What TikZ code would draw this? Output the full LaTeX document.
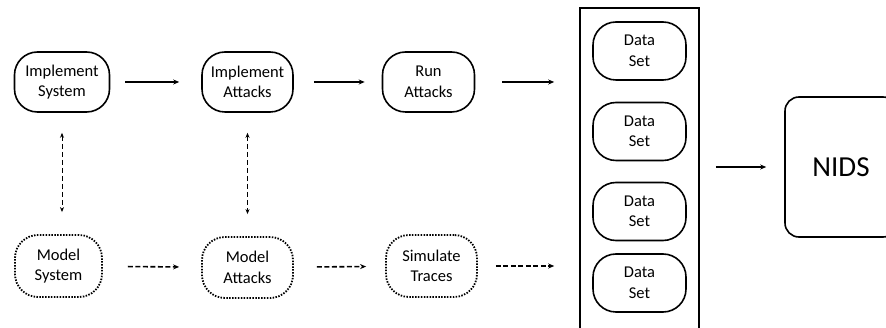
\documentclass[tikz,border=0pt]{standalone}
\usepackage{fontspec}
\setmainfont{Carlito}
\usetikzlibrary{arrows.meta}

\tikzset{
    stage/.style={draw, line width=1.6pt, rounded corners=23pt, align=center,
        font=\fontsize{16.5}{20.5}\selectfont, inner sep=1pt,
        minimum width=92pt, minimum height=60pt},
    simstage/.style={stage, line width=1.8pt, dash pattern=on 1.5pt off 1.4pt},
    flow/.style={-{Stealth[length=6pt,width=5pt]}, line width=1.6pt,
        shorten <=17pt, shorten >=19pt},
    simflow/.style={flow, dash pattern=on 5pt off 2.5pt},
    link/.style={{Stealth[length=5pt,width=4pt]}-{Stealth[length=5pt,width=4pt]},
        line width=1pt, dash pattern=on 5pt off 3pt,
        shorten <=20pt, shorten >=22pt}
}

\begin{document}
\begin{tikzpicture}[x=1pt,y=-1pt]
    \useasboundingbox (0,0) rectangle (886,328);

    % Real system
    \node[stage, minimum width=95pt] (isys) at (62,82) {Implement\\System};
    \node[stage, minimum width=91pt] (iatk) at (247.5,82) {Implement\\Attacks};
    \node[stage] (ratk) at (428.5,82) {Run\\Attacks};

    % Simulated system
    \node[simstage, minimum width=87pt, minimum height=62pt] (msys) at (58.5,266) {Model\\System};
    \node[simstage, minimum width=91pt, minimum height=61pt] (matk) at (247.5,267.5) {Model\\Attacks};
    \node[simstage, minimum width=91pt, minimum height=62pt] (strc) at (431.5,266) {Simulate\\Traces};

    % Data sets
    \node[draw, line width=1.6pt, minimum width=119pt, minimum height=330pt] (sets) at (639.5,173) {};
    \foreach \y [count=\i] in {51, 131.5, 211.5, 283} {
        \node[stage, minimum width=93pt, minimum height=58pt] (ds\i) at (639.5,\y) {Data\\Set};
    }

    % Detector
    \node[draw, line width=1.6pt, rounded corners=14pt, minimum width=112pt, minimum height=140pt,
        font=\fontsize{29}{33}\selectfont] (nids) at (841,167) {NIDS};

    % Flows
    \draw[flow, shorten <=15pt, shorten >=22pt] (isys) -- (iatk);
    \draw[flow, shorten <=20pt, shorten >=17pt] (iatk) -- (ratk);
    \draw[flow, shorten <=27pt, shorten >=25pt] (ratk.east) -- (ratk.east -| sets.west);
    \draw[simflow, shorten <=25pt, shorten >=22pt] (msys) -- (matk);
    \draw[simflow, shorten <=23pt, shorten >=19pt] (matk) -- (strc);
    \draw[simflow, shorten <=18pt, shorten >=25pt] (strc.east) -- (strc.east -| sets.west);
    \draw[flow, line width=1.3pt, shorten <=16pt, shorten >=18pt] (sets.east |- nids.west) -- (nids.west);

    % Model <-> implementation
    \draw[link] (isys.south) -- (isys.south |- msys.north);
    \draw[link] (iatk.south) -- (iatk.south |- matk.north);
\end{tikzpicture}
\end{document}
